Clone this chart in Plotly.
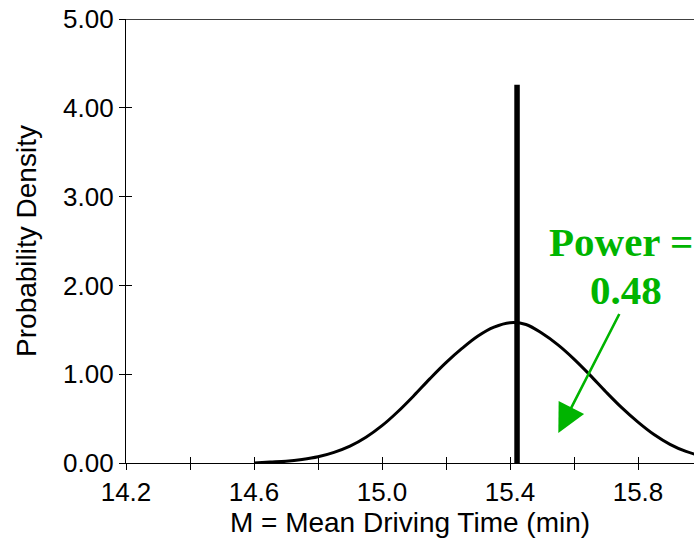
import plotly.graph_objects as go

# Sampling distribution curve (uniform 0.05 steps)
curve_x = [14.60, 14.65, 14.70, 14.75, 14.80, 14.85, 14.90, 14.95, 15.00, 15.05,
           15.10, 15.15, 15.20, 15.25, 15.30, 15.35, 15.40, 15.45, 15.50, 15.55,
           15.60, 15.65, 15.70, 15.75, 15.80, 15.85, 15.90, 15.95, 16.00, 16.05]
curve_y = [0.00, 0.01, 0.02, 0.04, 0.07, 0.12, 0.19, 0.29, 0.42, 0.58,
           0.76, 0.95, 1.13, 1.29, 1.43, 1.53, 1.58, 1.56, 1.46, 1.33,
           1.17, 0.99, 0.80, 0.62, 0.46, 0.32, 0.21, 0.13, 0.08, 0.05]

cutoff_x = 15.422
cutoff_top = 4.26

power_value = 0.48
arrow_tail = (15.744, 1.695)
arrow_tip = (15.551, 0.338)

x_range = [14.2, 15.975]
y_range = [0, 5]
x_tickvals = [14.2, 14.4, 14.6, 14.8, 15.0, 15.2, 15.4, 15.6, 15.8, 16.0]
x_ticklabels = ["14.2", "", "14.6", "", "15.0", "", "15.4", "", "15.8", ""]
y_tickvals = [0, 1, 2, 3, 4, 5]
y_ticklabels = ["0.00", "1.00", "2.00", "3.00", "4.00", "5.00"]

GREEN = "#00B400"
SANS = "Liberation Sans, Arial, sans-serif"
SERIF = "Liberation Serif, Times New Roman, serif"

fig = go.Figure()
fig.add_trace(go.Scatter(x=curve_x, y=curve_y, mode="lines",
                         line=dict(color="black", width=3, shape="spline", smoothing=1.0),
                         hoverinfo="skip", showlegend=False))
fig.add_trace(go.Scatter(x=[cutoff_x, cutoff_x], y=[0, cutoff_top], mode="lines",
                         line=dict(color="black", width=5.5),
                         hoverinfo="skip", showlegend=False))
# invisible trace on the overlay axes (inside half of the crossing ticks)
fig.add_trace(go.Scatter(x=[x_range[0]], y=[0], xaxis="x2", yaxis="y2", mode="markers",
                         marker=dict(opacity=0), hoverinfo="skip", showlegend=False))

fig.add_annotation(x=arrow_tip[0], y=arrow_tip[1], ax=arrow_tail[0], ay=arrow_tail[1],
                   xref="x", yref="y", axref="x", ayref="y", text="",
                   showarrow=True, arrowhead=2, arrowsize=2.2, arrowwidth=2.6,
                   arrowcolor=GREEN)
label_y = 2.215
fig.add_annotation(x=15.748, y=label_y, xref="x", yref="y", text="<b>Power =</b>",
                   showarrow=False, xanchor="center", yanchor="bottom", borderpad=0,
                   font=dict(family=SERIF, size=41, color=GREEN))
fig.add_annotation(x=15.764, y=label_y, xref="x", yref="y", text=f"<b>{power_value:.2f}</b>",
                   showarrow=False, xanchor="center", yanchor="top", borderpad=0,
                   font=dict(family=SERIF, size=41, color=GREEN))

fig.add_shape(type="line", xref="paper", yref="y", x0=0, x1=1, y0=5, y1=5,
              line=dict(color="black", width=1.3))

tick_font = dict(family=SANS, size=26, color="black")
title_font = dict(family=SANS, size=28, color="black")
fig.update_layout(
    width=694, height=543,
    margin=dict(l=126, r=0, t=19, b=80),
    paper_bgcolor="white", plot_bgcolor="white",
    showlegend=False,
    xaxis=dict(range=x_range, showgrid=False, zeroline=False,
               showline=True, linecolor="black", linewidth=1.3,
               tickmode="array", tickvals=x_tickvals, ticktext=x_ticklabels,
               ticks="outside", ticklen=6, tickwidth=1.3, tickcolor="black",
               tickfont=tick_font,
               title=dict(text="M = Mean Driving Time (min)", font=title_font, standoff=6)),
    yaxis=dict(range=y_range, showgrid=False, zeroline=False,
               showline=True, linecolor="black", linewidth=1.3,
               tickmode="array", tickvals=y_tickvals, ticktext=y_ticklabels,
               ticks="outside", ticklen=6, tickwidth=1.3, tickcolor="black",
               tickfont=tick_font,
               title=dict(text="Probability Density", font=title_font, standoff=18)),
    xaxis2=dict(range=x_range, overlaying="x", anchor="y", showgrid=False, zeroline=False,
                showline=False, tickmode="array", tickvals=x_tickvals, showticklabels=False,
                ticks="inside", ticklen=6, tickwidth=1.3, tickcolor="black"),
    yaxis2=dict(range=y_range, overlaying="y", anchor="x", showgrid=False, zeroline=False,
                showline=False, tickmode="array", tickvals=y_tickvals, showticklabels=False,
                ticks="inside", ticklen=6, tickwidth=1.3, tickcolor="black"),
)

fig.write_html("out.html")
